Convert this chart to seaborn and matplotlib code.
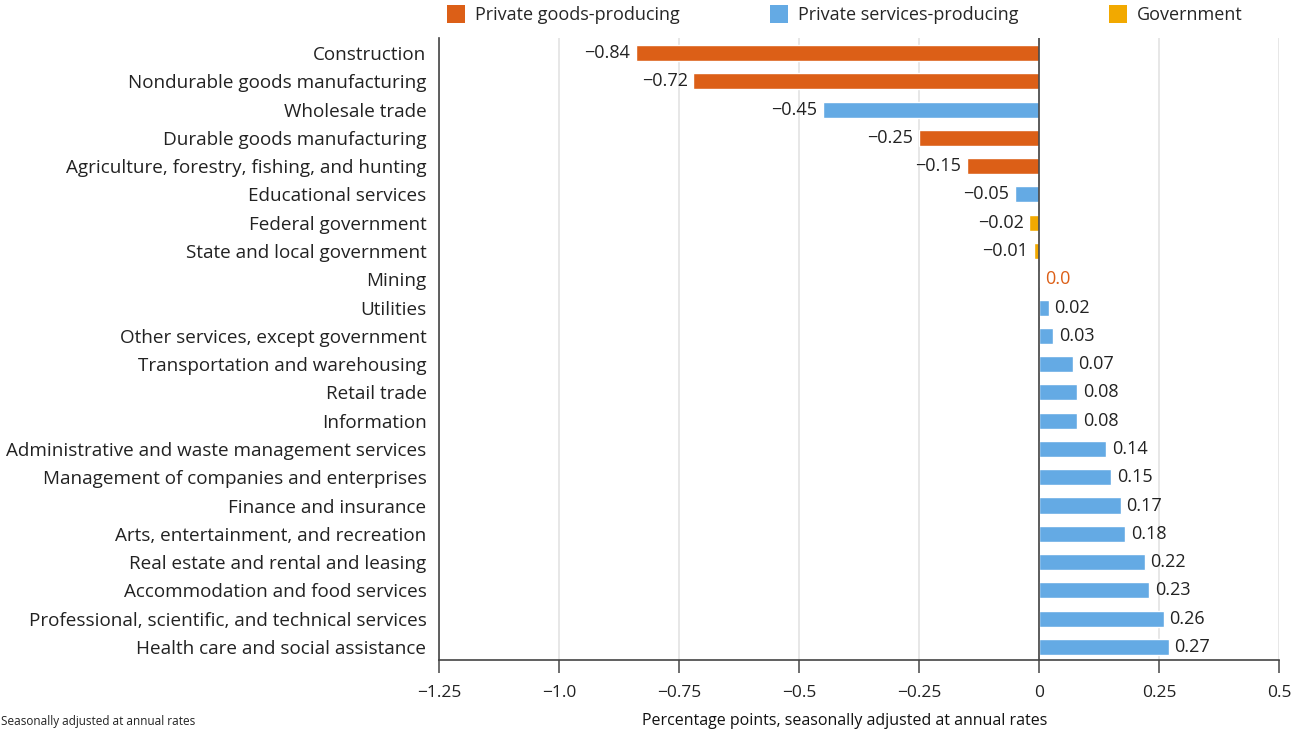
import matplotlib
matplotlib.use("Agg")
import matplotlib.pyplot as plt
import seaborn as sns
import pandas as pd
from matplotlib.patches import Patch

industries = [
    "Construction", "Nondurable goods manufacturing", "Wholesale trade",
    "Durable goods manufacturing", "Agriculture, forestry, fishing, and hunting",
    "Educational services", "Federal government", "State and local government",
    "Mining", "Utilities", "Other services, except government",
    "Transportation and warehousing", "Retail trade", "Information",
    "Administrative and waste management services",
    "Management of companies and enterprises", "Finance and insurance",
    "Arts, entertainment, and recreation", "Real estate and rental and leasing",
    "Accommodation and food services",
    "Professional, scientific, and technical services",
    "Health care and social assistance",
]
values = [-0.84, -0.72, -0.45, -0.25, -0.15, -0.05, -0.02, -0.01, 0.0, 0.02,
          0.03, 0.07, 0.08, 0.08, 0.14, 0.15, 0.17, 0.18, 0.22, 0.23, 0.26, 0.27]
groups = ["Private goods-producing", "Private goods-producing",
          "Private services-producing", "Private goods-producing",
          "Private goods-producing", "Private services-producing",
          "Government", "Government", "Private goods-producing"] + \
         ["Private services-producing"] * 13
group_order = ["Private goods-producing", "Private services-producing", "Government"]
colors = ["#DC5F17", "#64AAE4", "#F2A900"]
xticks = [-1.25, -1.0, -0.75, -0.5, -0.25, 0, 0.25, 0.5]
xticklabels = ["\u22121.25", "\u22121.0", "\u22120.75", "\u22120.5", "\u22120.25", "0", "0.25", "0.5"]

df = pd.DataFrame({"industry": industries, "value": values, "group": groups})

sns.set_style("white")
plt.rcParams["font.family"] = ["Open Sans", "DejaVu Sans"]

fig = plt.figure(figsize=(12.91, 7.29), dpi=100)
ax = fig.add_axes([439 / 1291, 1 - 660 / 729, 840 / 1291, 622 / 729])

palette = dict(zip(group_order, colors))
sns.barplot(data=df, y="industry", x="value", hue="group", hue_order=group_order,
            palette=palette, dodge=False, orient="h", width=0.57, ax=ax,
            legend=False, saturation=1, order=industries)

ax.set_xlim(-1.25, 0.5)
ax.set_ylim(21.46, -0.53)
ax.set_xticks(xticks)
ax.set_xticklabels(xticklabels, fontsize=12.5, color="#222222")
ax.grid(axis="x", color="#E3E3E3", linewidth=1.2)
ax.set_axisbelow(True)
ax.axvline(0, color="#444444", linewidth=1.2, zorder=3)
ax.tick_params(axis="x", length=9, width=1.2, color="#555555", direction="out", pad=9, bottom=True)
ax.tick_params(axis="y", length=0, labelsize=13.6, labelcolor="#222222", pad=9)
for s in ["top", "right"]:
    ax.spines[s].set_visible(False)
for s in ["left", "bottom"]:
    ax.spines[s].set_color("#444444")
    ax.spines[s].set_linewidth(1.2)
ax.set_ylabel("")
ax.set_xlabel("Percentage points, seasonally adjusted at annual rates", fontsize=11.5,
              color="#111111")
ax.xaxis.set_label_coords((845 - 439) / 840, -0.085)

for i, (v, g) in enumerate(zip(values, groups)):
    if v == 0:
        txt, col = "0.0", colors[0]
    else:
        txt, col = f"{v:.2f}".replace("-", "\u2212"), "#222222"
    if v < 0:
        ax.text(v - 0.012, i, txt, ha="right", va="center", fontsize=13, color="#222222")
    else:
        ax.text(v + 0.012, i, txt, ha="left", va="center", fontsize=13, color=col)

handles = [Patch(facecolor=c, edgecolor="none") for c in colors]
fig.legend(handles, group_order, loc="upper left", bbox_to_anchor=(431 / 1291, 1.016),
           ncol=3, frameon=False, fontsize=13, handlelength=1.0, handleheight=1.15,
           columnspacing=5.0, handletextpad=0.55)

fig.text(0.001, 0.001, "Seasonally adjusted at annual rates", fontsize=8.5, color="#222222",
         ha="left", va="bottom")

fig.savefig("out.png", dpi=100)
